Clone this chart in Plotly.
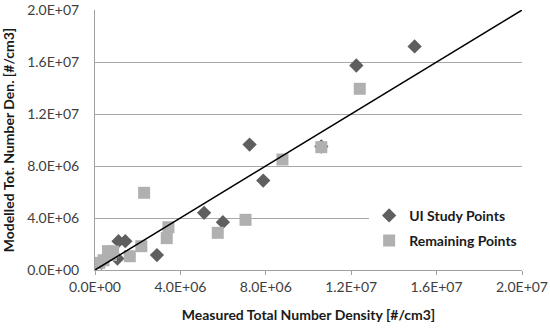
import plotly.graph_objects as go

ui_x = [1.497e7, 1.224e7, 1.06e7, 7.24e6, 7.88e6, 5.99e6, 5.11e6, 2.90e6, 1.42e6, 1.10e6, 1.05e6, 0.30e6]
ui_y = [1.72e7, 1.573e7, 9.5e6, 9.65e6, 6.88e6, 3.68e6, 4.40e6, 1.15e6, 2.22e6, 2.22e6, 0.88e6, 0.55e6]

rem_x = [1.24e7, 1.06e7, 8.78e6, 7.05e6, 5.75e6, 3.44e6, 3.36e6, 2.30e6, 2.17e6, 1.63e6, 0.85e6, 0.61e6, 0.75e6, 0.40e6, 0.20e6]
rem_y = [1.394e7, 9.45e6, 8.5e6, 3.86e6, 2.86e6, 3.29e6, 2.45e6, 5.94e6, 1.83e6, 1.06e6, 1.42e6, 1.45e6, 1.15e6, 0.75e6, 0.55e6]

line_x = [0, 2.0e7]
line_y = [0, 2.0e7]

tick_vals = [0, 4e6, 8e6, 1.2e7, 1.6e7, 2.0e7]
tick_text = ["0.0E+00", "4.0E+06", "8.0E+06", "1.2E+07", "1.6E+07", "2.0E+07"]

FONT = "Lato"

fig = go.Figure()
fig.add_trace(go.Scatter(x=ui_x, y=ui_y, mode="markers", name="UI Study Points",
                         marker=dict(symbol="diamond", size=11, color="#5f5f5f"),
                         legendgroup="a"))
fig.add_trace(go.Scatter(x=rem_x, y=rem_y, mode="markers", name="Remaining Points",
                         marker=dict(symbol="square", size=12, color="#b0b0b0"),
                         legendgroup="b"))
fig.add_trace(go.Scatter(x=line_x, y=line_y, mode="lines", showlegend=False,
                         line=dict(color="black", width=1.5)))

fig.update_layout(
    width=550, height=330,
    margin=dict(l=95, r=28, t=10, b=60),
    paper_bgcolor="white", plot_bgcolor="white",
    font=dict(family=FONT, size=14, color="#404040"),
    showlegend=True,
    legend=dict(x=0.642, y=0.27, xanchor="left", yanchor="top", bgcolor="white",
                font=dict(family=FONT, size=14, color="#1a1a1a", weight="bold"),
                tracegroupgap=4, itemwidth=30),
    xaxis=dict(range=[0, 2.0e7], tickvals=tick_vals, ticktext=tick_text,
               automargin=False,
               showgrid=False, zeroline=False, showline=True, linecolor="#a0a0a0",
               ticks="outside", ticklen=4, tickcolor="#a0a0a0",
               tickfont=dict(size=14, color="#404040"),
               title=dict(text="<b>Measured Total Number Density [#/cm3]</b>",
                          font=dict(size=14, color="#1a1a1a"), standoff=16)),
    yaxis=dict(range=[0, 2.0e7], tickvals=tick_vals, ticktext=tick_text,
               automargin=False,
               showgrid=True, gridcolor="#a8a8a8", gridwidth=1, zeroline=False,
               showline=True, linecolor="#a0a0a0", ticks="",
               ticklabelstandoff=12,
               tickfont=dict(size=14, color="#404040"),
               title=dict(text="<b>Modelled Tot. Number Den. [#/cm3]</b>",
                          font=dict(size=14, color="#1a1a1a"), standoff=14)),
)

# remove the page's default 8px body margin so the figure fills the window exactly
fig.write_html("out.html", config={"displayModeBar": False},
               post_script="document.body.style.margin='0';")
